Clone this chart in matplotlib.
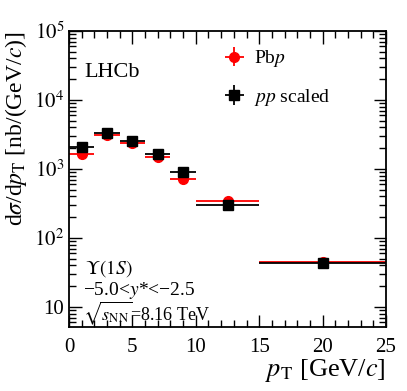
import matplotlib
matplotlib.use("Agg")
import matplotlib.pyplot as plt
import numpy as np
from matplotlib.ticker import FixedLocator, FixedFormatter, LogLocator, MultipleLocator, NullFormatter

plt.rcParams['font.family'] = ['Liberation Serif', 'DejaVu Serif']
plt.rcParams['mathtext.fontset'] = 'stix'

# Data
pt_lo = [0, 2, 4, 6, 8, 10, 15]
pt_hi = [2, 4, 6, 8, 10, 15, 25]
pt_center = [1, 3, 5, 7, 9, 12.5, 20]
pbp_vals = [1620, 3100, 2340, 1480, 720, 340, 44]
pbp_err = [150, 250, 190, 120, 70, 30, 5]
pp_vals = [2100, 3350, 2580, 1640, 910, 303, 43]
pp_err = [120, 180, 140, 90, 55, 20, 3]

yticks = [10, 100, 1000, 10000, 100000]
yticklabels = ['10', '$10^2$', '$10^3$', '$10^4$', '$10^5$']

fig = plt.figure(figsize=(4.07, 3.91), dpi=100)
ax = fig.add_axes([69/407, 1 - 327/391, (386-69)/407, (327-31)/391])

xc = np.array(pt_center)
xerr = [xc - np.array(pt_lo), np.array(pt_hi) - xc]

ax.errorbar(xc, pbp_vals, xerr=xerr, yerr=pbp_err, fmt='o', color='red',
            ms=7, elinewidth=1.3, capsize=0, zorder=2, label=r'Pb$p$')
ax.errorbar(xc, pp_vals, xerr=xerr, yerr=pp_err, fmt='s', color='black',
            ms=7, elinewidth=1.3, capsize=0, zorder=3, label=r'$pp$ scaled')

ax.set_yscale('log')
ax.set_ylim(5.1, 1e5)
ax.set_xlim(0, 25)

ax.yaxis.set_major_locator(FixedLocator(yticks))
ax.yaxis.set_major_formatter(FixedFormatter(yticklabels))
ax.yaxis.set_minor_locator(LogLocator(base=10, subs=np.arange(2, 10)))
ax.yaxis.set_minor_formatter(NullFormatter())
ax.xaxis.set_major_locator(MultipleLocator(5))
ax.xaxis.set_minor_locator(MultipleLocator(1))

ax.tick_params(which='both', direction='in', top=True, right=True, labelsize=15, width=1.0)
ax.tick_params(which='major', length=9)
ax.tick_params(which='minor', length=5)
ax.tick_params(axis='x', pad=8)
for s in ax.spines.values():
    s.set_linewidth(1.3)

ax.set_ylabel(r'd$\sigma$/d$p_{\mathrm{T}}$ [nb/(GeV/$c$)]', fontsize=17, loc='top')
ax.yaxis.set_label_coords(-0.125, 1.0)
ax.set_xlabel(r'$p_{\mathrm{T}}$ [GeV/$c$]', fontsize=19, loc='right', labelpad=0)

ax.text(0.05, 0.86, 'LHCb', transform=ax.transAxes, fontsize=16, ha='left', va='center')
ax.text(0.05, 0.198, r'$\mathit{\Upsilon}(1S)$', transform=ax.transAxes, fontsize=14, ha='left', va='center')
ax.text(0.045, 0.124, '\u22125.0<$y$*<\u22122.5', transform=ax.transAxes, fontsize=14, ha='left', va='center')
ax.text(0.045, 0.045, r'$\sqrt{s_{\mathrm{NN}}}$=8.16 TeV', transform=ax.transAxes, fontsize=13, ha='left', va='center')

h, l = ax.get_legend_handles_labels()
ax.legend(h, l, loc='upper left', bbox_to_anchor=(0.43, 1.0), frameon=False,
          fontsize=14, handlelength=1.2, labelspacing=0.9, handletextpad=0.4)

fig.savefig('out.png', dpi=100)
